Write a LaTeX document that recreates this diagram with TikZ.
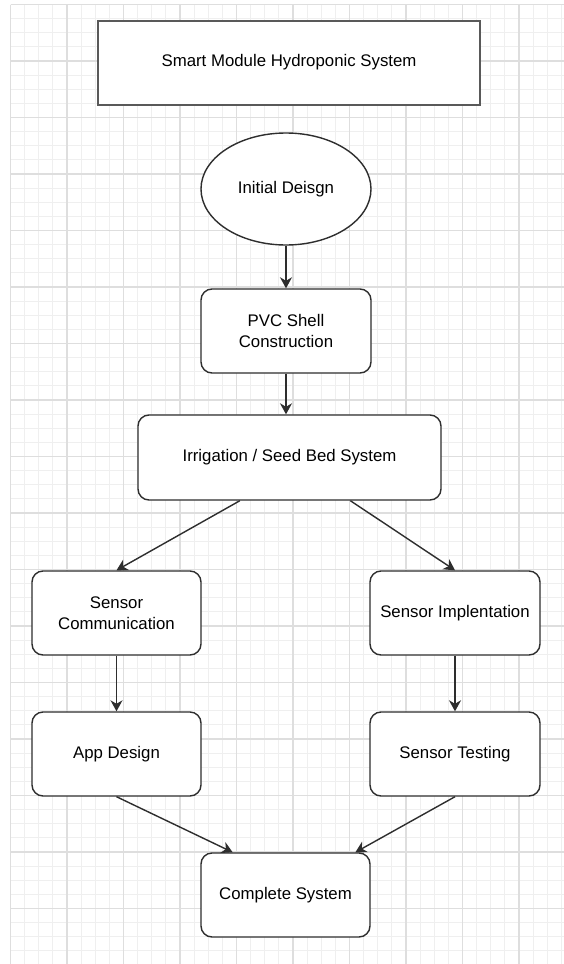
\documentclass[tikz,border=0pt]{standalone}
\usepackage{fontspec}
\setmainfont{Liberation Sans}
\usetikzlibrary{shapes.geometric,arrows.meta,calc}

\definecolor{gridminor}{HTML}{EFEFEF}
\definecolor{gridmajor}{HTML}{DEDEDE}
\definecolor{edge}{HTML}{2E2E2E}

\tikzset{
  txt/.style={font=\fontsize{16.8}{20.5}\selectfont, text=black, align=center},
  stepbox/.style={txt, draw=edge, line width=1.4pt, fill=white,
    rounded corners=11pt, minimum width=170pt, minimum height=84pt, inner sep=0pt},
  titlebox/.style={txt, draw=black!65, line width=2pt, fill=white,
    minimum width=382pt, minimum height=84pt, inner sep=0pt},
  startshape/.style={txt, ellipse, draw=edge, line width=1.4pt, fill=white,
    minimum width=170pt, minimum height=112pt, inner sep=0pt},
  flow/.style={draw=edge, line width=1.4pt,
    -{Stealth[length=11pt, width=12pt, inset=3.5pt]}},
}

\begin{document}
\begin{tikzpicture}[x=1pt, y=-1pt]
  \useasboundingbox (0,0) rectangle (564,964);
  \fill[white] (0,0) rectangle (564,964);

  % background grid: fine lines every 14.125, heavier ones every 56.5
  \foreach \i in {0,...,39} {
    \draw[gridminor, line width=1.2pt] ({10.5+14.125*\i},4.5) -- ({10.5+14.125*\i},964);
  }
  \foreach \j in {0,...,68} {
    \draw[gridminor, line width=1.2pt] (10.5,{4.5+14.125*\j}) -- (564,{4.5+14.125*\j});
  }
  \foreach \i in {0,...,9} {
    \draw[gridmajor, line width=1.2pt] ({10.5+56.5*\i},4.5) -- ({10.5+56.5*\i},964);
  }
  \foreach \j in {0,...,17} {
    \draw[gridmajor, line width=1.2pt] (10.5,{4.5+56.5*\j}) -- (564,{4.5+56.5*\j});
  }

  % title and flow nodes
  \node[titlebox] (title) at (289,62.5) {Smart Module Hydroponic System};
  \node[startshape] (init) at (286,189) {Initial Deisgn};
  \node[stepbox] (pvc) at (286,331) {PVC Shell\\Construction};
  \node[stepbox, minimum width=303pt, minimum height=85pt] (irr) at (289.5,457.5) {Irrigation / Seed Bed System};
  \node[stepbox, minimum width=169pt] (scomm) at (116.5,613) {Sensor\\Communication};
  \node[stepbox] (simpl) at (455,613) {Sensor Implentation};
  \node[stepbox, minimum width=169pt] (app) at (116.5,754) {App Design};
  \node[stepbox] (stest) at (455,754) {Sensor Testing};
  \node[stepbox, minimum width=169pt] (done) at (285.5,895) {Complete System};

  % connectors
  \draw[flow] (init.south) -- (pvc.north);
  \draw[flow] (pvc.south) -- (pvc.south |- irr.north);
  \draw[flow] ($(irr.south west)!0.337!(irr.south east)$) -- (scomm.north);
  \draw[flow] ($(irr.south west)!0.70!(irr.south east)$) -- (simpl.north);
  \draw[flow] (scomm.south) -- (app.north);
  \draw[flow] (simpl.south) -- (stest.north);
  \draw[flow] (app.south) -- ($(done.north west)!0.19!(done.north east)$);
  \draw[flow] (stest.south) -- ($(done.north west)!0.91!(done.north east)$);
\end{tikzpicture}
\end{document}
